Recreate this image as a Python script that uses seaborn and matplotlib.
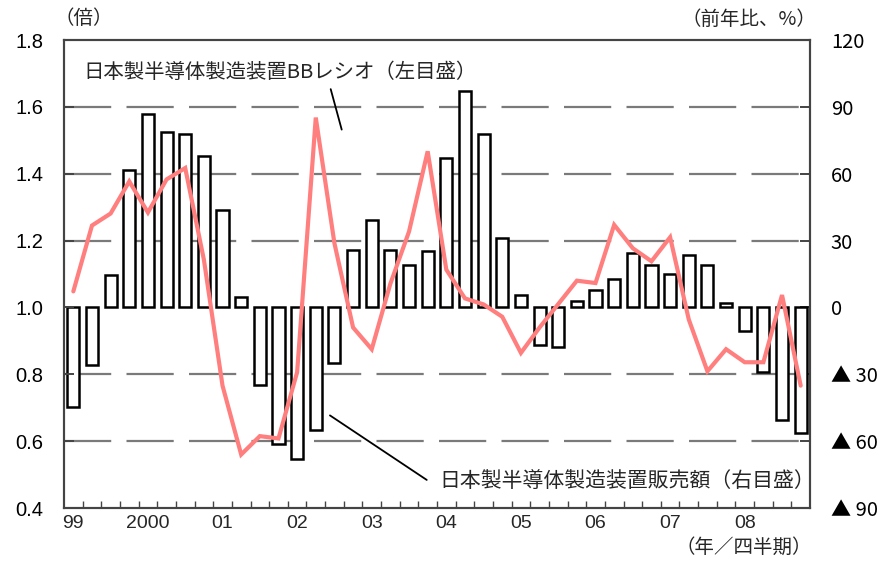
import numpy as np
import pandas as pd
import matplotlib
matplotlib.use("Agg")
import matplotlib.pyplot as plt
import seaborn as sns

# 日本製半導体製造装置: 販売額(前年比、%) と BBレシオ(倍), 1999年1Q〜2008年4Q
years = ["99", "2000", "01", "02", "03", "04", "05", "06", "07", "08"]
quarters_per_year = 4
quarters = [f"{y}-{q}" for y in years for q in range(1, quarters_per_year + 1)]

sales_yoy = [-44.6, -25.7, 14.4, 61.5, 86.6, 78.6, 77.9, 67.9, 43.8, 4.6,
             -34.6, -61.4, -67.8, -55.1, -25.0, 25.9, 39.2, 25.9, 18.9, 25.1,
             67.0, 97.2, 77.9, 31.3, 5.5, -16.8, -17.7, 2.8, 8.0, 12.6,
             24.4, 18.9, 15.2, 23.4, 18.9, 1.9, -10.6, -29.1, -50.7, -56.2]

bb_ratio = [1.048, 1.245, 1.281, 1.377, 1.284, 1.383, 1.417, 1.143, 0.766, 0.560,
            0.615, 0.608, 0.806, 1.568, 1.192, 0.940, 0.875, 1.071, 1.227, 1.467,
            1.113, 1.027, 1.009, 0.972, 0.864, 0.940, 1.010, 1.080, 1.073, 1.247,
            1.177, 1.138, 1.210, 0.964, 0.809, 0.875, 0.836, 0.836, 1.037, 0.766]

left_ticks = [0.4, 0.6, 0.8, 1.0, 1.2, 1.4, 1.6, 1.8]
right_ticks = [-90, -60, -30, 0, 30, 60, 90, 120]
right_labels = ["▲ 90", "▲ 60", "▲ 30", "0", "30", "60", "90", "120"]

df = pd.DataFrame({"quarter": quarters, "sales": sales_yoy, "bb": bb_ratio})
df["pos"] = np.arange(len(df))

sns.set_theme(style="white")
plt.rcParams["font.family"] = ["Noto Sans CJK JP", "DejaVu Sans"]
plt.rcParams["lines.scale_dashes"] = False

num_font = ["Liberation Sans Narrow", "Liberation Sans", "DejaVu Sans"]
right_font = ["Noto Sans CJK JP", "DejaVu Sans"]

fig = plt.figure(figsize=(8.94, 5.76), dpi=100)
ax = fig.add_axes([64 / 894, (576 - 508) / 576, (810 - 64) / 894, (508 - 40) / 576])

# bars: year-on-year sales (right-hand scale)
sns.barplot(data=df, x="quarter", y="sales", order=quarters, color="white",
            saturation=1, edgecolor="black", linewidth=1.8, width=0.65, ax=ax)
ax.set_xlim(-0.5, len(quarters) - 0.5)
ax.set_ylim(-90, 120)
ax.set_xlabel("")
ax.set_ylabel("")

# line: BB ratio (left-hand scale), drawn on a twin axis so it sits above the bars
ax2 = ax.twinx()
sns.lineplot(data=df, x="pos", y="bb", color="#FF7F7F", linewidth=3.0, ax=ax2,
             solid_joinstyle="miter")
ax2.set_ylim(0.4, 1.8)
ax2.set_xlim(-0.5, len(quarters) - 0.5)
ax2.set_xlabel("")
ax2.set_ylabel("")

# put the scales on the expected sides
ax.yaxis.tick_right()
ax2.yaxis.tick_left()

ax.set_yticks(right_ticks)
ax.set_yticklabels(right_labels, fontsize=14.5, family=right_font)
ax2.set_yticks(left_ticks)
ax2.set_yticklabels([f"{v:.1f}" for v in left_ticks], fontsize=14.5, family=num_font)

# horizontal dashed grid behind the bars
ax.set_axisbelow(True)
for v in right_ticks:
    if v in (0, -90, 120):
        continue
    ax.axhline(v, color="#7a7a7a", linewidth=1.6, linestyle=(0, (34, 11)), zorder=0)

# x ticks: year labels at Q1, small inward ticks between quarters
ax.set_xticks(np.arange(0, len(quarters), quarters_per_year))
ax.set_xticklabels(years, fontsize=14, family=num_font)
ax.set_xticks(np.arange(0.5, len(quarters) - 0.5, 1), minor=True)
ax.tick_params(axis="x", which="major", length=0, pad=5)
ax.tick_params(axis="x", which="minor", direction="in", length=5, width=1,
               color="#444444", bottom=True)
ax2.tick_params(axis="x", which="both", bottom=False, labelbottom=False)

ax.tick_params(axis="y", which="major", direction="in", length=7, width=1.4,
               color="#444444", pad=15, labelcolor="black")
ax2.tick_params(axis="y", which="major", direction="in", length=7, width=1.4,
                color="#444444", pad=15, labelcolor="black")

for a in (ax, ax2):
    for s in a.spines.values():
        s.set_visible(True)
        s.set_color("#444444")
        s.set_linewidth(1.5)

# axis unit labels
fig.text(54 / 894, 1 - 19 / 576, "（倍）", fontsize=14, ha="left", va="center")
fig.text(816 / 894, 1 - 19 / 576, "（前年比、%）", fontsize=14, ha="right", va="center")
fig.text(812 / 894, 1 - 547 / 576, "（年／四半期）", fontsize=14, ha="right", va="center")

# series labels with leader lines
ax2.text(0.55, 1.704, "日本製半導体製造装置BBレシオ（左目盛）", fontsize=14.7,
         ha="left", va="center")
ax2.plot([13.80, 14.39], [1.653, 1.532], color="black", linewidth=1.3)
ax2.text(39.75, 0.48, "日本製半導体製造装置販売額（右目盛）", fontsize=15,
         ha="right", va="center")
ax2.plot([13.76, 18.95], [0.677, 0.484], color="black", linewidth=1.3)

fig.savefig("out.png", dpi=100)
